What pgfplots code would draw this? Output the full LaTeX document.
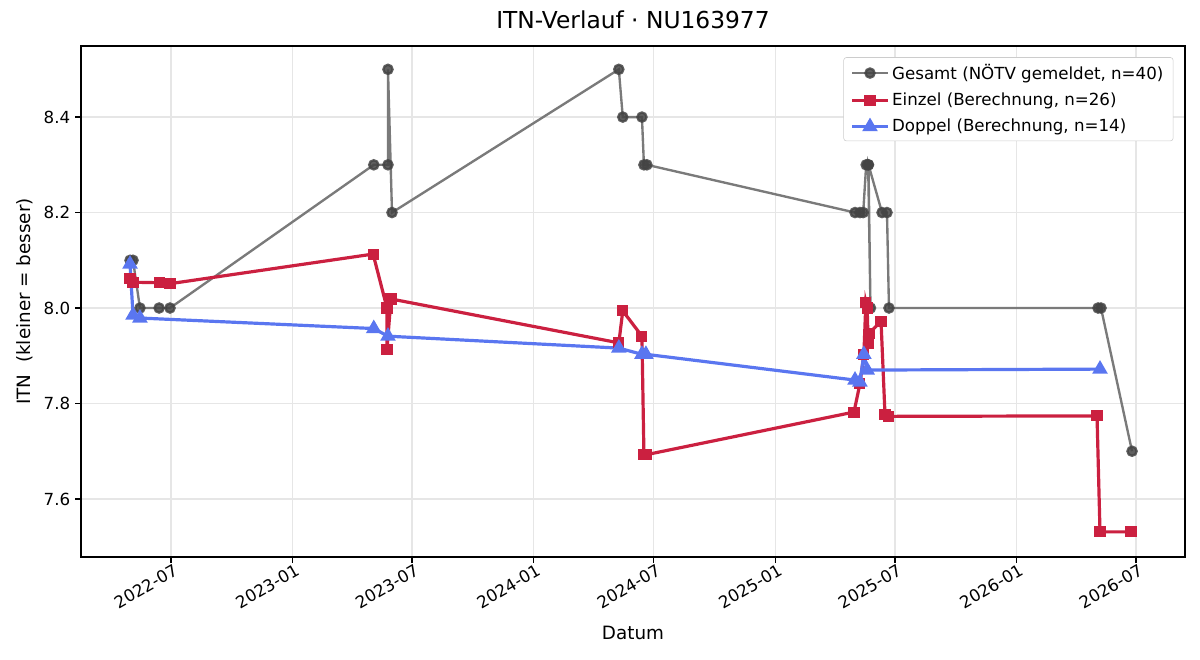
\documentclass[border=0pt]{standalone}
\usepackage{pgfplots}
\pgfplotsset{compat=1.18}
\usepackage{fontspec}
\setmainfont{DejaVu Sans}
\definecolor{gline}{RGB}{122,122,122}
\definecolor{gmark}{RGB}{68,68,68}
\definecolor{ered}{RGB}{203,32,64}
\definecolor{dblue}{RGB}{90,118,240}
\definecolor{gridc}{RGB}{230,230,230}
\begin{document}
\begin{tikzpicture}
\useasboundingbox (-58.3pt,-74.2pt) rectangle (805.7pt,401pt);
\begin{axis}[
  at={(0,0)}, anchor=south west,
  scale only axis, width=794.9pt, height=367.9pt,
  xmin=-136.3, xmax=1535.2, ymin=7.4785, ymax=8.549,
  font=\fontsize{12}{14}\selectfont,
  xtick={0,184,365,549,731,915,1096,1280,1461},
  xticklabels={2022-07,2023-01,2023-07,2024-01,2024-07,2025-01,2025-07,2026-01,2026-07},
  ytick={7.6,7.8,8.0,8.2,8.4},
  yticklabel style={/pgf/number format/.cd,fixed,fixed zerofill,precision=1,assume math mode=true},
  xticklabel style={rotate=30, anchor=north east, inner sep=1pt, xshift=2pt},
  tick align=outside, tick pos=left, major tick length=4.2pt,
  tick style={black, line width=0.9pt},
  axis line style={line width=0.9pt},
  grid=major, grid style={gridc, line width=0.9pt},
  xlabel={Datum}, ylabel={ITN\ \ (kleiner = besser)},
  xlabel style={at={(axis description cs:0.5,-0.149)}, anchor=center, font=\fontsize{13.2}{15}\selectfont},
  ylabel style={at={(axis description cs:-0.0507,0.5)}, anchor=center, font=\fontsize{13.2}{15}\selectfont},
  title={ITN-Verlauf · NU163977},
  title style={at={(axis description cs:0.5,1.035)}, anchor=center, font=\fontsize{16.8}{19}\selectfont},
  legend style={at={(axis description cs:0.9895,0.978)}, anchor=north east, draw=gray!40, rounded corners=2pt, font=\fontsize{12}{14}\selectfont, row sep=4.2pt, inner xsep=5pt, inner ysep=3pt},
  legend cell align=left,
  legend image code/.code={\draw[mark repeat=2,mark phase=2] plot coordinates {(0cm,0cm) (0.45cm,0cm) (0.9cm,0cm)};},
]
\addplot[gline, line width=1.7pt, mark=*, mark size=3.3pt, mark options={fill=gmark, draw=gmark, fill opacity=0.85, draw opacity=0.85}] coordinates {
(-62,8.1) (-57.5,8.1) (-47,8.0) (-18,8.0) (-1.5,8.0)
(307,8.3) (328.5,8.3) (328.5,8.5) (334.6,8.2)
(678,8.5) (684,8.4) (713,8.4) (716,8.3) (720.5,8.3)
(1035.6,8.2) (1043,8.2) (1048,8.2) (1052.5,8.3) (1055.5,8.3) (1059,8.0) (1056,8.3) (1076.5,8.2) (1084,8.2) (1087,8.0)
(1403.5,8.0) (1408,8.0) (1455,7.7)
};
\addlegendentry{Gesamt (NÖTV gemeldet, n=40)}
\addplot[ered, line width=2.3pt, mark=square*, mark size=3.6pt, mark options={fill=ered, draw=ered, line width=0.8pt}] coordinates {
(-62,8.061) (-57.5,8.054) (-18,8.053) (-1.5,8.051)
(306,8.113) (327,8.0) (327,7.913) (333,8.019)
(678,7.927) (684,7.994) (713,7.941) (716,7.694) (720.5,7.693)
(1034,7.782) (1043,7.841) (1049,7.902) (1052,8.012) (1054,8.0) (1055.5,7.925) (1057,7.947) (1075,7.972) (1081,7.776) (1086,7.773)
(1402,7.774) (1406.5,7.531) (1453.5,7.531)
};
\addlegendentry{Einzel (Berechnung, n=26)}
\addplot[dblue, line width=2.3pt, mark=triangle*, mark size=4.2pt, mark options={fill=dblue, draw=dblue}] coordinates {
(-62,8.092) (-57.5,7.985) (-47,7.979)
(307,7.957) (328.5,7.941)
(678,7.916) (713,7.903) (719,7.903)
(1035.6,7.849) (1043,7.845) (1049,7.903) (1054,7.870)
(1406.5,7.872)
};
\addlegendentry{Doppel (Berechnung, n=14)}
\end{axis}
\end{tikzpicture}
\end{document}
